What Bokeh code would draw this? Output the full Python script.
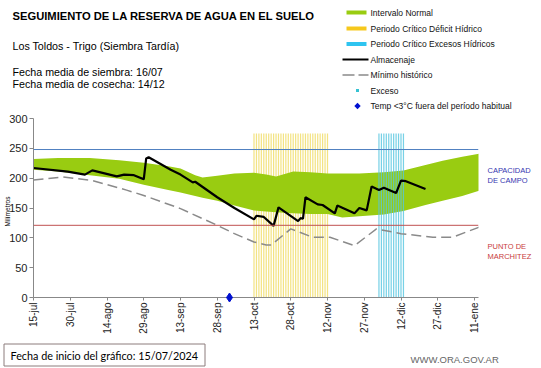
import numpy as np
import pandas as pd
from bokeh.plotting import figure
from bokeh.models import ColumnDataSource, FixedTicker, Span, Range1d
from bokeh.core.properties import value
from bokeh.embed import file_html
from bokeh.resources import INLINE

# ---------------- data ----------------
START = pd.Timestamp("2024-07-15")

band_dates = ["2024-07-15", "2024-07-25", "2024-08-07", "2024-08-19", "2024-08-29",
              "2024-09-08", "2024-09-13", "2024-09-19", "2024-09-22", "2024-09-28",
              "2024-10-05", "2024-10-13", "2024-10-18", "2024-10-22", "2024-10-29",
              "2024-11-05", "2024-11-12", "2024-11-18", "2024-11-25", "2024-12-05",
              "2024-12-13", "2024-12-22", "2024-12-29", "2025-01-06", "2025-01-13"]
band_upper = [232, 234, 234, 230, 226, 220, 216, 205, 201, 204, 208, 209, 206, 203, 211,
              210, 208, 208, 208, 210, 213, 222, 229, 236, 241]
band_lower = [214, 211, 205, 199, 189, 180, 176, 170, 167, 162, 154, 146, 144, 143, 141,
              140, 140, 134, 136, 139, 145, 155, 162, 170, 179]

alm_dates = ["2024-07-15", "2024-07-29", "2024-08-05", "2024-08-08", "2024-08-18",
             "2024-08-21", "2024-08-25", "2024-08-29", "2024-08-30", "2024-08-31",
             "2024-09-09", "2024-09-13", "2024-09-18", "2024-09-19", "2024-09-28",
             "2024-10-05", "2024-10-13", "2024-10-14", "2024-10-17", "2024-10-21",
             "2024-10-23", "2024-10-31", "2024-11-01", "2024-11-02", "2024-11-03",
             "2024-11-08", "2024-11-10", "2024-11-15", "2024-11-16", "2024-11-23",
             "2024-11-25", "2024-11-28", "2024-11-30", "2024-12-03", "2024-12-05",
             "2024-12-10", "2024-12-12", "2024-12-14", "2024-12-22"]
alm_values = [217, 211, 206, 213, 203, 206, 205, 198, 233, 235,
              214, 206, 193, 194, 168, 150, 131, 137, 135, 120,
              151, 128, 133, 132, 168, 156, 155, 141, 154, 141,
              150, 146, 186, 180, 184, 175, 196, 195, 182]

min_dates = ["2024-07-15", "2024-07-27", "2024-08-08", "2024-08-22", "2024-08-29",
             "2024-09-13", "2024-09-28", "2024-10-05", "2024-10-13", "2024-10-18",
             "2024-10-20", "2024-10-28", "2024-11-06", "2024-11-13", "2024-11-23",
             "2024-12-02", "2024-12-12", "2024-12-25", "2025-01-02", "2025-01-13"]
min_values = [197, 202, 196, 180, 171, 149, 121, 107, 93, 88,
              88, 115, 101, 101, 87, 115, 107, 101, 101, 118]

deficit_period = ("2024-10-13", "2024-11-12")
exceso_period = ("2024-12-03", "2024-12-13")
period_top = 275

temp_dates = ["2024-10-03"]
temp_values = [0]

capacidad_campo = 248
punto_marchitez = 121

tick_days = [0, 15, 30, 45, 60, 75, 90, 105, 120, 135, 150, 165, 180]
tick_labels = ["15-jul", "30-jul", "14-ago", "29-ago", "13-sep", "28-sep", "13-oct",
               "28-oct", "12-nov", "27-nov", "12-dic", "27-dic", "11-ene"]

legend_labels = ["Intervalo Normal", "Periodo Crítico Déficit Hídrico",
                 "Periodo Crítico Excesos Hídricos", "Almacenaje", "Mínimo histórico",
                 "Exceso", "Temp <3°C fuera del período habitual"]

# colours
C_BAND = "#99CC11"
C_DEF = "#EFD95A"
C_DEF_KEY = "#F6C81C"
C_EXC = "#55C6E0"
C_EXC_KEY = "#2EC4F0"
C_MIN = "#8A8A8A"
C_EXCESO = "#36C2D2"
C_TEMP = "#0010D0"


def days(dates):
    return [(pd.Timestamp(d) - START).days for d in dates]


def period_days(per):
    return days([str(d.date()) for d in pd.date_range(per[0], per[1], freq="D")])


# ---------------- layout helpers (page pixels -> data) ----------------
W, H = 540, 367
F_LEFT, F_RIGHT, F_TOP, F_BOTTOM = 33, 478, 118, 297
PX_DAY = 2.45
PX_MM = (F_BOTTOM - F_TOP) / 300.0


def dx(px):
    return (px - F_LEFT) / PX_DAY


def dy(py):
    return (F_BOTTOM - py) / PX_MM


FONT = "Liberation Sans"

p = figure(width=W, height=H, output_backend="svg", toolbar_location=None,
           x_range=Range1d(0, (F_RIGHT - F_LEFT) / PX_DAY),
           y_range=Range1d(0, 300),
           min_border_left=F_LEFT, min_border_right=W - F_RIGHT,
           min_border_top=F_TOP, min_border_bottom=H - F_BOTTOM)
p.outline_line_color = None
p.xgrid.visible = False
p.ygrid.visible = False
p.background_fill_color = "white"
p.border_fill_color = "white"

# critical period stripes
dd = period_days(deficit_period)
p.vbar(x=dd, top=[period_top] * len(dd), bottom=0, width=0.5,
       fill_color=C_DEF, line_color=None, fill_alpha=0.75)

# normal band
band_src = ColumnDataSource(dict(x=days(band_dates), lo=band_lower, hi=band_upper))
p.varea(x="x", y1="lo", y2="hi", source=band_src, fill_color=C_BAND)

de = period_days(exceso_period)
p.vbar(x=de, top=[period_top] * len(de), bottom=0, width=0.5,
       fill_color=C_EXC, line_color=None, fill_alpha=0.8)

# reference lines
p.add_layout(Span(location=capacidad_campo, dimension="width",
                  line_color="#4F7FC0", line_width=1))
p.add_layout(Span(location=punto_marchitez, dimension="width",
                  line_color="#C05050", line_width=1))

p.line(days(min_dates), min_values, line_color=C_MIN, line_width=1.5, line_dash="10 5")
p.line(days(alm_dates), alm_values, line_color="black", line_width=2.2)
p.scatter(days(temp_dates), temp_values, marker="diamond", size=9,
          color=C_TEMP, level="overlay")

# axes
p.xaxis.ticker = FixedTicker(ticks=tick_days)
p.xaxis.major_label_overrides = {d: l for d, l in zip(tick_days, tick_labels)}
p.xaxis.major_label_orientation = np.pi / 2
p.xaxis.minor_tick_line_color = None
p.xaxis.major_tick_out = 3
p.xaxis.major_tick_in = 0
p.xaxis.major_label_standoff = 2
p.xaxis.major_label_text_font = FONT
p.xaxis.major_label_text_font_size = "10px"
p.xaxis.major_label_text_color = "#222222"
p.xaxis.axis_line_color = "#888888"
p.xaxis.major_tick_line_color = "#888888"

p.yaxis.ticker = FixedTicker(ticks=[0, 50, 100, 150, 200, 250, 300])
p.yaxis.minor_tick_line_color = None
p.yaxis.major_tick_out = 4
p.yaxis.major_tick_in = 0
p.yaxis.major_label_standoff = 2
p.yaxis.major_label_text_font = FONT
p.yaxis.major_label_text_font_size = "11px"
p.yaxis.major_label_text_color = "#222222"
p.yaxis.axis_line_color = "#888888"
p.yaxis.major_tick_line_color = "#888888"

# ---------------- legend (drawn as overlay marks outside the frame) ----------------
ROWS = [12, 28, 43.5, 59, 74.5, 90, 105.5]
for row, col in zip(ROWS[:3], [C_BAND, C_DEF_KEY, C_EXC_KEY]):
    p.quad(left=[dx(346)], right=[dx(366)], top=[dy(row - 2)], bottom=[dy(row + 2)],
           fill_color=col, line_color=None, level="overlay")
p.line([dx(342), dx(368)], [dy(ROWS[3])] * 2, line_color="black", line_width=2,
       level="overlay")
p.line([dx(342), dx(368)], [dy(ROWS[4])] * 2, line_color=C_MIN, line_width=1.5,
       line_dash="12 4", level="overlay")
# small square key (Exceso)
p.quad(left=[dx(355.5)], right=[dx(358.5)], top=[dy(ROWS[5] - 1.5)],
       bottom=[dy(ROWS[5] + 1.5)], fill_color=C_EXCESO, line_color=None,
       level="overlay")
# diamond key (Temp)
kx, ky = 357, ROWS[6]
p.patch([dx(kx - 3.2), dx(kx), dx(kx + 3.2), dx(kx)],
        [dy(ky), dy(ky - 3.2), dy(ky), dy(ky + 3.2)],
        fill_color=C_TEMP, line_color=None, level="overlay")
p.text(x=[dx(370)] * len(legend_labels), y=[dy(r) for r in ROWS], text=legend_labels,
       text_font=value(FONT), text_font_size=value("8.5px"), text_color="#111111",
       text_baseline="middle", text_align="left", level="overlay")


def add_text(text, px, py, size, color="black", style="normal", align="left",
             angle=0.0, font=FONT):
    p.text(x=[dx(px)], y=[dy(py)], text=[text], text_font=value(font),
           text_font_size=value(size), text_color=color, text_font_style=style,
           text_align=align, text_baseline="middle", angle=angle, level="overlay")


add_text("SEGUIMIENTO DE LA RESERVA DE AGUA  EN EL SUELO", 12, 15.5, "11.2px",
         style="bold")
add_text("Los Toldos - Trigo (Siembra Tardía)", 12, 45.5, "10.7px")
add_text("Fecha media de siembra: 16/07", 12, 71.5, "10.7px")
add_text("Fecha media de cosecha: 14/12", 12, 83.5, "10.7px")

add_text("CAPACIDAD", 487, 170, "7.5px", color="#3535B0")
add_text("DE  CAMPO", 487, 180, "7.5px", color="#3535B0")
add_text("PUNTO  DE", 487, 246, "7.5px", color="#C83C3C")
add_text("MARCHITEZ", 487, 256, "7.5px", color="#C83C3C")

add_text("Milímetros", 7, 211, "6.5px", align="center", angle=np.pi / 2)

# footer box
p.quad(left=[dx(3.5)], right=[dx(204.5)], top=[dy(343.5)], bottom=[dy(365.5)],
       fill_color=None, line_color="#8C7C7C", line_width=1, level="overlay")
add_text("Fecha de inicio del gráfico:  15/07/2024", 10, 355, "10.8px", font="Lato")
add_text("WWW.ORA.GOV.AR", 410, 359, "9.5px", color="#666666")

open("out.html", "w").write(file_html(p, INLINE))
